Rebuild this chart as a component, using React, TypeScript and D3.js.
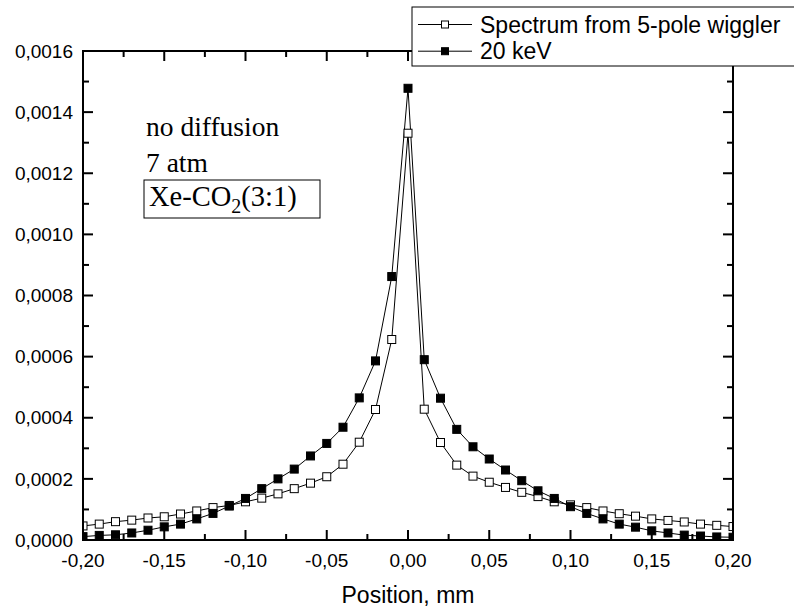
import React from "react";
import * as d3 from "d3";

const positions = [
  -0.2, -0.19, -0.18, -0.17, -0.16, -0.15, -0.14, -0.13, -0.12, -0.11, -0.1,
  -0.09, -0.08, -0.07, -0.06, -0.05, -0.04, -0.03, -0.02, -0.01, 0,
  0.01, 0.02, 0.03, 0.04, 0.05, 0.06, 0.07, 0.08, 0.09, 0.1,
  0.11, 0.12, 0.13, 0.14, 0.15, 0.16, 0.17, 0.18, 0.19, 0.2,
];

// values in units of 1e-3
const wigglerSeries = [
  0.046, 0.052, 0.06, 0.065, 0.072, 0.076, 0.085, 0.095, 0.106, 0.113, 0.125,
  0.137, 0.151, 0.168, 0.186, 0.207, 0.248, 0.32, 0.427, 0.656, 1.331,
  0.428, 0.319, 0.245, 0.209, 0.189, 0.172, 0.156, 0.142, 0.125, 0.115,
  0.106, 0.095, 0.086, 0.078, 0.069, 0.064, 0.059, 0.052, 0.048, 0.044,
];

const kev20Series = [
  0.011, 0.015, 0.017, 0.023, 0.032, 0.043, 0.052, 0.069, 0.087, 0.111, 0.136,
  0.168, 0.2, 0.232, 0.275, 0.316, 0.369, 0.465, 0.586, 0.862, 1.478,
  0.59, 0.464, 0.362, 0.305, 0.265, 0.229, 0.194, 0.161, 0.136, 0.109,
  0.087, 0.069, 0.052, 0.042, 0.03, 0.023, 0.016, 0.013, 0.01, 0.009,
];

const xTicks = [-0.2, -0.15, -0.1, -0.05, 0, 0.05, 0.1, 0.15, 0.2];
const xTickLabels = ["-0,20", "-0,15", "-0,10", "-0,05", "0,00", "0,05", "0,10", "0,15", "0,20"];
const xMinorTicks = [-0.175, -0.125, -0.075, -0.025, 0.025, 0.075, 0.125, 0.175];
const yTicks = [0, 0.0002, 0.0004, 0.0006, 0.0008, 0.001, 0.0012, 0.0014, 0.0016];
const yTickLabels = ["0,0000", "0,0002", "0,0004", "0,0006", "0,0008", "0,0010", "0,0012", "0,0014", "0,0016"];
const yMinorTicks = [0.0001, 0.0003, 0.0005, 0.0007, 0.0009, 0.0011, 0.0013, 0.0015];

const legendLabels = ["Spectrum from 5-pole wiggler", "20 keV"];
const xTitle = "Position, mm";

const W = 794;
const H = 612;
const L = 83, R = 733, T = 51, B = 540;

export default function App() {
  const x = d3.scaleLinear().domain([-0.2, 0.2]).range([L, R]);
  const y = d3.scaleLinear().domain([0, 0.0016]).range([B, T]);
  const line = d3
    .line<[number, number]>()
    .x((d) => x(d[0]))
    .y((d) => y(d[1]));

  const s1: [number, number][] = positions.map((p, i) => [p, wigglerSeries[i] * 1e-3]);
  const s2: [number, number][] = positions.map((p, i) => [p, kev20Series[i] * 1e-3]);
  const ms = 8;
  const sans = "'Liberation Sans', Arial, sans-serif";
  const serif = "'Liberation Serif', 'Times New Roman', serif";

  return (
    <svg
      width={W}
      height={H}
      style={{ position: "absolute", left: 0, top: 0, background: "#fff" }}
    >
      <defs>
        <clipPath id="plotclip">
          <rect x={L} y={T - 10} width={R - L} height={B - T + 10} />
        </clipPath>
      </defs>
      <rect x={0} y={0} width={W} height={H} fill="#fff" />

      <g clipPath="url(#plotclip)">
        <path d={line(s1) || ""} fill="none" stroke="#000" strokeWidth={1} />
        <path d={line(s2) || ""} fill="none" stroke="#000" strokeWidth={1} />
        {s1.map((d, i) => (
          <rect
            key={"a" + i}
            x={x(d[0]) - ms / 2}
            y={y(d[1]) - ms / 2}
            width={ms}
            height={ms}
            fill="#fff"
            stroke="#000"
            strokeWidth={1}
          />
        ))}
        {s2.map((d, i) => (
          <rect
            key={"b" + i}
            x={x(d[0]) - ms / 2}
            y={y(d[1]) - ms / 2}
            width={ms}
            height={ms}
            fill="#000"
            stroke="#000"
            strokeWidth={1}
          />
        ))}
      </g>

      {/* frame */}
      <rect x={L} y={T} width={R - L} height={B - T} fill="none" stroke="#000" strokeWidth={2} />

      {/* x ticks bottom & top */}
      {xTicks.map((t, i) => (
        <g key={"xt" + i}>
          <line x1={x(t)} x2={x(t)} y1={B} y2={B - 10} stroke="#000" strokeWidth={2} />
          <line x1={x(t)} x2={x(t)} y1={T} y2={T + 10} stroke="#000" strokeWidth={2} />
          <text
            x={x(t)}
            y={567}
            textAnchor="middle"
            fontFamily={sans}
            fontSize={19}
            fill="#000"
          >
            {xTickLabels[i]}
          </text>
        </g>
      ))}
      {xMinorTicks.map((t, i) => (
        <g key={"xm" + i}>
          <line x1={x(t)} x2={x(t)} y1={B} y2={B - 6} stroke="#000" strokeWidth={2} />
          <line x1={x(t)} x2={x(t)} y1={T} y2={T + 6} stroke="#000" strokeWidth={2} />
        </g>
      ))}

      {/* y ticks left & right */}
      {yTicks.map((t, i) => (
        <g key={"yt" + i}>
          <line x1={L} x2={L + 10} y1={y(t)} y2={y(t)} stroke="#000" strokeWidth={2} />
          <line x1={R} x2={R - 10} y1={y(t)} y2={y(t)} stroke="#000" strokeWidth={2} />
          <text
            x={73}
            y={y(t)}
            dy="0.35em"
            textAnchor="end"
            fontFamily={sans}
            fontSize={19}
            fill="#000"
          >
            {yTickLabels[i]}
          </text>
        </g>
      ))}
      {yMinorTicks.map((t, i) => (
        <g key={"ym" + i}>
          <line x1={L} x2={L + 6} y1={y(t)} y2={y(t)} stroke="#000" strokeWidth={2} />
          <line x1={R} x2={R - 6} y1={y(t)} y2={y(t)} stroke="#000" strokeWidth={2} />
        </g>
      ))}

      <text x={408} y={603} textAnchor="middle" fontFamily={sans} fontSize={23} fill="#000">
        {xTitle}
      </text>

      {/* annotations */}
      <text x={146} y={136} fontFamily={serif} fontSize={27.5} fill="#000">
        no diffusion
      </text>
      <text x={146} y={172} fontFamily={serif} fontSize={27.5} fill="#000">
        7 atm
      </text>
      <rect x={144} y={180} width={176} height={38} fill="none" stroke="#000" strokeWidth={1} />
      <text x={149} y={206} fontFamily={serif} fontSize={28.5} fill="#000">
        Xe-CO
        <tspan fontSize={20} dy={7}>2</tspan>
        <tspan dy={-7}>(3:1)</tspan>
      </text>

      {/* legend */}
      <rect x={412} y={7} width={400} height={59} fill="#fff" stroke="#000" strokeWidth={1} />
      {legendLabels.map((lab, i) => {
        const ly = 24.5 + i * 26.7;
        return (
          <g key={"lg" + i}>
            <line x1={418} x2={472} y1={ly} y2={ly} stroke="#000" strokeWidth={1} />
            <rect
              x={445 - 3.5}
              y={ly - 3.5}
              width={7}
              height={7}
              fill={i === 0 ? "#fff" : "#000"}
              stroke="#000"
              strokeWidth={1}
            />
            <text x={480} y={ly + 8} fontFamily={sans} fontSize={23} fill="#000">
              {lab}
            </text>
          </g>
        );
      })}
    </svg>
  );
}
